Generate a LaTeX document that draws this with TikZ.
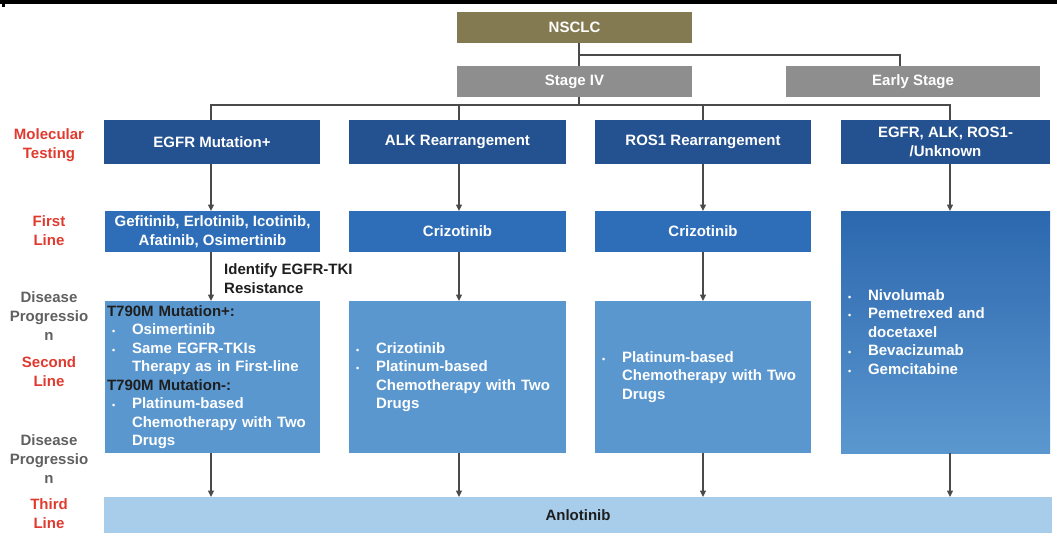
\documentclass[tikz,border=0pt]{standalone}
\usepackage{fontspec}
\setmainfont{Liberation Sans}
\usetikzlibrary{arrows.meta}

\definecolor{cNsclc}{HTML}{847A52}
\definecolor{cStage}{HTML}{8E8E8E}
\definecolor{cMol}{HTML}{24518F}
\definecolor{cFirst}{HTML}{2E6DB7}
\definecolor{cSecond}{HTML}{5B97CF}
\definecolor{cThird}{HTML}{A8CDEB}
\definecolor{cRed}{HTML}{E03A2F}
\definecolor{cProg}{HTML}{606060}
\definecolor{cLine}{HTML}{4A4A4A}
\definecolor{cDark}{HTML}{1E1E1E}

% bullet and continuation indents for the treatment lists
\newcommand\bitem{\hspace*{5pt}\makebox[20pt][l]{\fontsize{9}{9}\selectfont\textbullet}}
\newcommand\cont{\hspace*{25pt}}

\begin{document}
\begin{tikzpicture}[x=1pt,y=-1pt,
  font=\bfseries\fontsize{15}{18.5}\selectfont,
  box/.style={draw=none, inner sep=0pt, outer sep=0pt, anchor=north west,
              text=white, align=center},
  listbox/.style={box, align=left, inner xsep=2pt, text=white},
  side/.style={align=center, inner sep=0pt, font=\bfseries\fontsize{15}{19}\selectfont},
  conn/.style={draw=cLine, line width=1.4pt},
  arr/.style={conn, -{Triangle[width=6pt,length=6.5pt]}}
]
\useasboundingbox (0,0) rectangle (1057,541);

% top rule
\fill[black] (0,0) rectangle (1057,3.5);
\fill[black] (2,3.5) rectangle (5,6.5);

% staging
\node[box, fill=cNsclc, minimum width=235pt, minimum height=31pt] (nsclc) at (457,12) {NSCLC};
\node[box, fill=cStage, minimum width=235pt, minimum height=31pt] (st4) at (457,66) {Stage IV};
\node[box, fill=cStage, minimum width=254pt, minimum height=31pt] (early) at (786,66) {Early Stage};

% molecular testing
\node[box, fill=cMol, minimum width=216pt, minimum height=44pt] (egfr) at (104,120) {EGFR Mutation+};
\node[box, fill=cMol, minimum width=217pt, minimum height=44pt] (alk) at (349,120) {ALK Rearrangement};
\node[box, fill=cMol, minimum width=216pt, minimum height=44pt] (ros) at (595,120) {ROS1 Rearrangement};
\node[box, fill=cMol, minimum width=209pt, minimum height=44pt] (unk) at (841,120) {EGFR, ALK, ROS1-\\/Unknown};

% first line
\node[box, fill=cFirst, minimum width=215pt, minimum height=41pt] (fl1) at (105,211) {Gefitinib, Erlotinib, Icotinib,\\Afatinib, Osimertinib};
\node[box, fill=cFirst, minimum width=217pt, minimum height=41pt] (fl2) at (349,211) {Crizotinib};
\node[box, fill=cFirst, minimum width=216pt, minimum height=41pt] (fl3) at (595,211) {Crizotinib};

% second line
\node[listbox, fill=cSecond, text width=211pt, minimum height=152pt] (sl1) at (105,301)
  {{\color{cDark}T790M Mutation+:}\\
   \bitem Osimertinib\\
   \bitem Same EGFR-TKIs\\
   \cont Therapy as in First-line\\
   {\color{cDark}T790M Mutation-:}\\
   \bitem Platinum-based\\
   \cont Chemotherapy with Two\\
   \cont Drugs};
\node[listbox, fill=cSecond, text width=213pt, minimum height=152pt] (sl2) at (349,301)
  {\bitem Crizotinib\\
   \bitem Platinum-based\\
   \cont Chemotherapy with Two\\
   \cont Drugs};
\node[listbox, fill=cSecond, text width=212pt, minimum height=152pt] (sl3) at (595,301)
  {\bitem Platinum-based\\
   \cont Chemotherapy with Two\\
   \cont Drugs};
\node[listbox, top color=cFirst!95!black, bottom color=cSecond, text width=205pt, minimum height=242pt] (tx4) at (841,211)
  {\bitem Nivolumab\\
   \bitem Pemetrexed and\\
   \cont docetaxel\\
   \bitem Bevacizumab\\
   \bitem Gemcitabine};

% third line
\node[box, fill=cThird, text=cDark, minimum width=948pt, minimum height=36pt] (anl) at (104,497) {Anlotinib};

% row labels
\node[side, text=cRed] (lmol) at (49,145) {Molecular\\Testing};
\node[side, text=cRed] (lfirst) at (49,231) {First\\Line};
\node[side, text=cProg] (lprog1) at (49,316) {Disease\\Progressio\\n};
\node[side, text=cRed] (lsecond) at (49,372) {Second\\Line};
\node[side, text=cProg] (lprog2) at (49,459) {Disease\\Progressio\\n};
\node[side, text=cRed] (lthird) at (49,514) {Third\\Line};

% connector positions
\coordinate (tx) at (579,0);
\coordinate (ex) at (900,0);
\coordinate (bus1) at (0,55);
\coordinate (bus2) at (0,105);
\coordinate (c1) at (211,0);
\coordinate (c2) at (459,0);
\coordinate (c3) at (703,0);
\coordinate (c4) at (950,0);

% tree lines
\draw[conn] (nsclc.south -| tx) -- (st4.north -| tx);
\draw[conn] (bus1 -| tx) -| (early.north -| ex);
\draw[conn] (st4.south -| tx) -- (bus2 -| tx);
\draw[conn] (egfr.north -| c1) |- (bus2 -| c4) -- (unk.north -| c4);
\draw[conn] (bus2 -| c2) -- (alk.north -| c2);
\draw[conn] (bus2 -| c3) -- (ros.north -| c3);

% arrows down each column
\draw[arr] (egfr.south -| c1) -- (fl1.north -| c1);
\draw[arr] (alk.south -| c2) -- (fl2.north -| c2);
\draw[arr] (ros.south -| c3) -- (fl3.north -| c3);
\draw[arr] (unk.south -| c4) -- (tx4.north -| c4);
\draw[arr] (fl1.south -| c1) -- (sl1.north -| c1);
\draw[arr] (fl2.south -| c2) -- (sl2.north -| c2);
\draw[arr] (fl3.south -| c3) -- (sl3.north -| c3);
\draw[arr] (sl1.south -| c1) -- (anl.north -| c1);
\draw[arr] (sl2.south -| c2) -- (anl.north -| c2);
\draw[arr] (sl3.south -| c3) -- (anl.north -| c3);
\draw[arr] (tx4.south -| c4) -- (anl.north -| c4);

\node[anchor=west, align=left, inner sep=0pt, text=cDark] (resist) at (224,278.5) {Identify EGFR-TKI\\Resistance};
\end{tikzpicture}
\end{document}
